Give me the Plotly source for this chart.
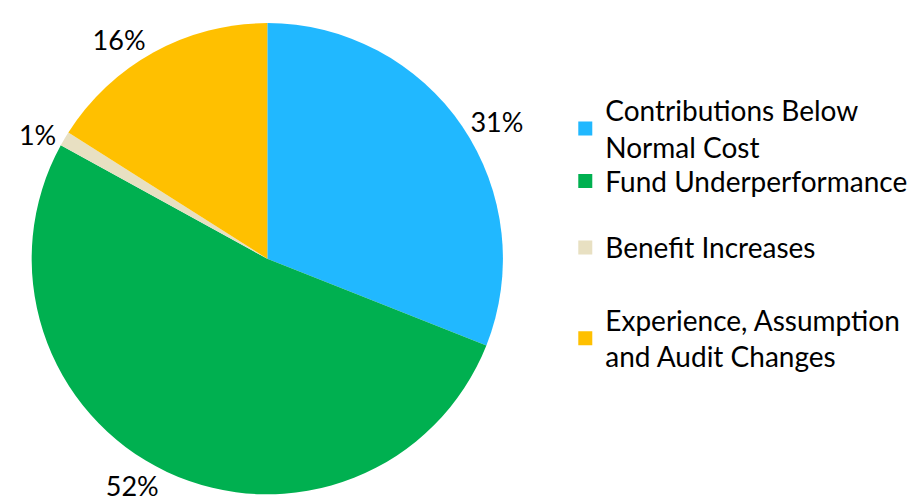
import plotly.graph_objects as go

categories = ["Contributions Below<br>Normal Cost", "Fund Underperformance",
              "Benefit Increases", "Experience, Assumption<br>and Audit Changes"]
values = [31, 52, 1, 16]
colors = ["#21B8FF", "#00B050", "#E8E0C2", "#FFC000"]

fig = go.Figure(go.Pie(
    labels=categories,
    values=values,
    marker=dict(colors=colors, line=dict(width=0)),
    sort=False,
    direction="clockwise",
    rotation=0,
    textposition="outside",
    texttemplate="%{percent:.0%}",
    textfont=dict(size=27, color="#000000", family="Lato"),
    domain=dict(x=[0.0, 0.53], y=[0.035, 0.97]),
    showlegend=False,
))

# legend entries (one legend per item so the spacing can follow the reference)
legend_tops = [0.846, 0.706, 0.574, 0.430]
legend_names = ["legend", "legend2", "legend3", "legend4"]
for name, col, lg in zip(categories, colors, legend_names):
    fig.add_trace(go.Scatter(
        x=[None], y=[None], mode="markers", name=name,
        marker=dict(symbol="square", size=14, color=col),
        legend=lg, showlegend=True, hoverinfo="skip",
    ))

legend_style = dict(
    x=0.595, xanchor="left", yanchor="top",
    font=dict(size=28, family="Lato", color="#000000"),
    itemwidth=30, bgcolor="rgba(0,0,0,0)",
)

fig.update_layout(
    width=923, height=504,
    margin=dict(l=0, r=0, t=0, b=0),
    paper_bgcolor="white",
    plot_bgcolor="white",
    xaxis=dict(visible=False),
    yaxis=dict(visible=False),
    legend=dict(y=legend_tops[0], **legend_style),
    legend2=dict(y=legend_tops[1], **legend_style),
    legend3=dict(y=legend_tops[2], **legend_style),
    legend4=dict(y=legend_tops[3], **legend_style),
)

fig.write_html("out.html")
